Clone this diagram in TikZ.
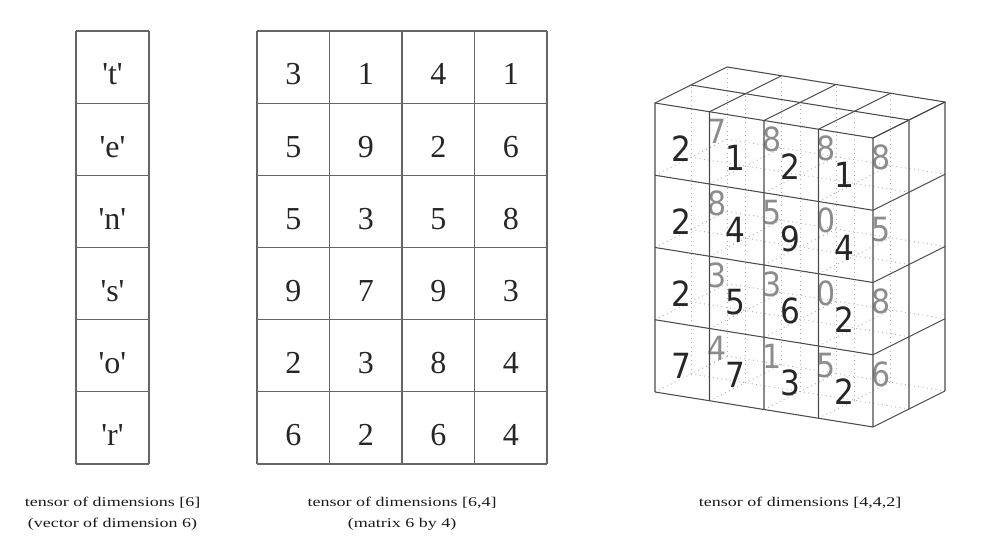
\documentclass[tikz,border=0pt]{standalone}
\usepackage{fontspec}
\setmainfont{Liberation Serif}
\newfontfamily\cubefont{DejaVu Sans}

\tikzset{
  gridline/.style={draw=black!60, line width=0.9pt},
  cell/.style={font=\fontsize{24}{24}\selectfont, text=black!85,
    anchor=base, inner sep=0pt},
  cubeline/.style={draw=black!70, line width=0.8pt},
  hiddenline/.style={draw=black!30, line width=0.7pt,
    dash pattern=on 0.7pt off 2.6pt},
  frontnum/.style={font=\cubefont\fontsize{26}{26}\selectfont,
    text=black!85, inner sep=0pt},
  backnum/.style={font=\cubefont\fontsize{25}{25}\selectfont,
    text=black!45, inner sep=0pt},
  caption/.style={font=\fontsize{10}{15.75}\selectfont, align=center,
    anchor=north, inner sep=0pt, text=black!90}
}
\newcommand{\wide}[1]{\scalebox{1.35}[1]{#1}}
\newcommand{\narrow}[1]{\scalebox{0.9}[1]{#1}}

\begin{document}
\begin{tikzpicture}[x=0.75pt, y=-0.75pt]
  \useasboundingbox (0,0) rectangle (984,555);

  % Vector of dimension 6
  \foreach \r in {0,...,6}
    \draw[gridline] (76,{31+72.17*\r}) -- (149,{31+72.17*\r});
  \draw[gridline] (76,31) -- (76,464) (149,31) -- (149,464);
  \foreach \ch [count=\i] in {t,e,n,s,o,r}
    \node[cell] (vec-\i) at (112.5,{31+72.17*(\i-1)+54})
      {\textquotesingle\ch\textquotesingle};

  % Matrix 6 by 4
  \foreach \r in {0,...,6}
    \draw[gridline] (257,{31+72.17*\r}) -- (547,{31+72.17*\r});
  \foreach \c in {0,...,4}
    \draw[gridline] ({257+72.5*\c},31) -- ({257+72.5*\c},464);
  \foreach \row [count=\i] in
      {{3,1,4,1},{5,9,2,6},{5,3,5,8},{9,7,9,3},{2,3,8,4},{6,2,6,4}}
    \foreach \v [count=\j] in \row
      \node[cell] (mat-\i-\j) at ({257+72.5*(\j-0.5)},{31+72.17*(\i-1)+54}) {\v};

  % Tensor 4 by 4 by 2
  \begin{scope}[shift={(655,392)}, x={(40.875pt,-6.5625pt)},
      y={(0pt,54.1875pt)}, z={(27pt,13.5pt)}]
    % hidden edges
    \foreach \z in {1,2} {
      \foreach \i in {0,...,3} \draw[hiddenline] (\i,0,\z) -- (\i,4,\z);
      \foreach \j in {0,...,3} \draw[hiddenline] (0,\j,\z) -- (4,\j,\z);
    }
    \foreach \i in {0,...,3}
      \foreach \j in {0,...,3}
        \draw[hiddenline] (\i,\j,0) -- (\i,\j,2);

    % back layer
    \foreach \row [count=\k] in {{7,8,8,8},{8,5,0,5},{3,3,0,8},{4,1,5,6}}
      \foreach \v [count=\i] in \row
        \node[backnum] (back-\k-\i) at ({\i-0.52},{4.42-\k},1) {\narrow{\v}};

    % front layer
    \foreach \row [count=\k] in {{2,1,2,1},{2,4,9,4},{2,5,6,2},{7,7,3,2}}
      \foreach \v [count=\i] in \row
        \node[frontnum] (front-\k-\i) at ({\i-0.52},{4.42-\k},0) {\narrow{\v}};

    % visible edges
    \foreach \i in {0,...,4}
      \draw[cubeline] (\i,0,0) -- (\i,4,0) -- (\i,4,2);
    \foreach \j in {0,...,4}
      \draw[cubeline] (0,\j,0) -- (4,\j,0) -- (4,\j,2);
    \foreach \z in {1,2}
      \draw[cubeline] (0,4,\z) -- (4,4,\z) -- (4,0,\z);
  \end{scope}

  % Captions
  \node[caption] (cap-vec) at (112.5,497)
    {\wide{tensor of dimensions [6]}\\\wide{(vector of dimension 6)}};
  \node[caption] (cap-mat) at (402,497)
    {\wide{tensor of dimensions [6,4]}\\\wide{(matrix 6 by 4)}};
  \node[caption] (cap-cube) at (800,497)
    {\wide{tensor of dimensions [4,4,2]}};

\end{tikzpicture}
\end{document}
